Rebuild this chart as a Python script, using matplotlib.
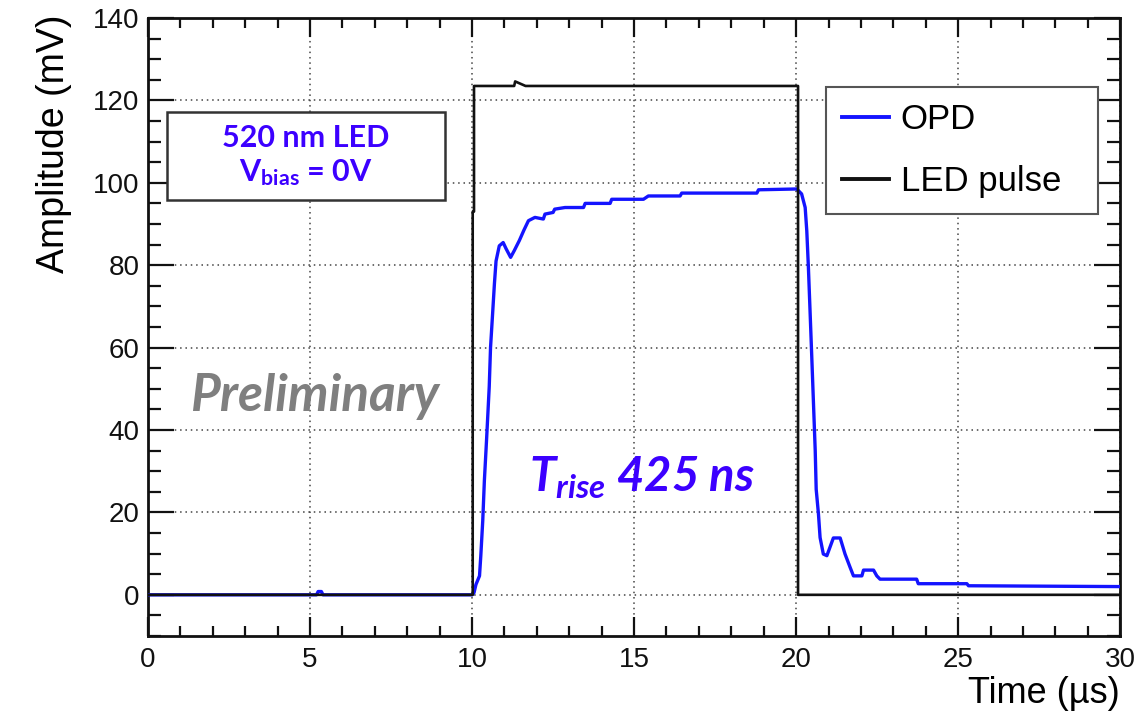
import matplotlib
matplotlib.use("Agg")
import matplotlib.pyplot as plt
from matplotlib.ticker import MultipleLocator
from matplotlib.patches import Rectangle

# ---------------- data ----------------
t_opd = [0.0, 5.2, 5.25, 5.35, 5.4, 10.0, 10.06, 10.12, 10.23, 10.27, 10.33, 10.38,
         10.45, 10.53, 10.57, 10.64, 10.69, 10.74, 10.84, 10.96, 11.05, 11.19, 11.3,
         11.46, 11.6, 11.74, 11.94, 12.2, 12.25, 12.5, 12.55, 12.87, 13.44, 13.49,
         14.26, 14.31, 15.29, 15.44, 16.42, 16.47, 18.79, 18.84, 20.02, 20.17, 20.28,
         20.33, 20.38, 20.43, 20.48, 20.59, 20.62, 20.69, 20.74, 20.84, 20.95, 21.15,
         21.36, 21.51, 21.67, 21.77, 22.03, 22.08, 22.39, 22.49, 22.59, 23.72, 23.77,
         25.27, 25.32, 30.0]
v_opd = [0.0, 0.0, 0.8, 0.8, 0.0, 0.0, 0.5, 2.5, 4.6, 9.5, 18.0, 27.7,
         38.0, 50.5, 60.0, 69.0, 75.5, 81.0, 84.7, 85.5, 84.0, 81.9, 83.5,
         86.0, 88.5, 90.8, 91.6, 91.2, 92.4, 92.8, 93.6, 94.0, 94.0, 95.0,
         95.0, 96.0, 96.0, 96.8, 96.8, 97.5, 97.5, 98.3, 98.5, 97.3, 94.0,
         88.3, 79.4, 69.0, 58.5, 35.0, 25.6, 19.6, 13.9, 9.9, 9.5, 13.8,
         13.8, 9.9, 6.6, 4.6, 4.6, 6.0, 6.0, 4.6, 3.8, 3.8, 2.7,
         2.7, 2.2, 2.0]

t_led = [0.0, 10.02, 10.02, 10.06, 10.06, 11.3, 11.33, 11.65, 20.06, 20.06, 30.0]
v_led = [0.0, 0.0, 93.0, 93.0, 123.5, 123.5, 124.6, 123.5, 123.5, 0.0, 0.0]

series_names = ["OPD", "LED pulse"]
x_ticks = [0, 5, 10, 15, 20, 25, 30]
y_ticks = [0, 20, 40, 60, 80, 100, 120, 140]

# ---------------- style ----------------
plt.rcParams['font.family'] = ['Liberation Sans', 'DejaVu Sans']
plt.rcParams['mathtext.fontset'] = 'custom'
plt.rcParams['mathtext.rm'] = 'Lato:bold'
plt.rcParams['mathtext.it'] = 'Lato:italic:bold'
plt.rcParams['mathtext.bf'] = 'Lato:bold'

txt_blue = '#3c00ff'

fig = plt.figure(figsize=(11.43, 7.19), dpi=100)
ax = fig.add_axes([0.1295, 0.1154, 0.8505, 0.8596])

ax.plot(t_opd, v_opd, color='#1414ff', lw=2.4, label=series_names[0], zorder=3)
ax.plot(t_led, v_led, color='#111111', lw=1.9, label=series_names[1], zorder=4)

ax.set_xlim(0, 30)
ax.set_ylim(-10, 140)
ax.set_xticks(x_ticks)
ax.set_yticks(y_ticks)
ax.xaxis.set_minor_locator(MultipleLocator(1))
ax.yaxis.set_minor_locator(MultipleLocator(5))
ax.tick_params(which='both', direction='in', top=True, right=True, width=1.6,
               labelsize=20, colors='#111111')
ax.tick_params(axis='x', which='major', length=13.5, pad=8)
ax.tick_params(axis='x', which='minor', length=7)
ax.tick_params(axis='y', which='major', length=19, pad=6)
ax.tick_params(axis='y', which='minor', length=9.5)
for s in ax.spines.values():
    s.set_linewidth(2.0)
    s.set_color('#111111')

ax.grid(True, which='major', color='#444444', linestyle=(0, (1, 2.5)), linewidth=1.1)
ax.set_axisbelow(True)

ax.set_ylabel('Amplitude (mV)', fontsize=27, loc='top')
ax.yaxis.set_label_coords(-0.078, 1.006)
ax.set_xlabel('Time (µs)', fontsize=26, loc='right')
ax.xaxis.set_label_coords(1.0, -0.064)

leg = ax.legend(loc='upper left', bbox_to_anchor=(0.6975, 0.686, 0.2795, 0.202),
                mode='expand', borderaxespad=0,
                fontsize=25, frameon=True, fancybox=False, edgecolor='#555555',
                handlelength=1.35, handletextpad=0.35, labelspacing=0.85,
                borderpad=0.45, framealpha=1)
leg.get_frame().set_linewidth(1.5)
for ln in leg.get_lines():
    ln.set_linewidth(2.8)

# annotation box
ax.add_patch(Rectangle((0.0195, 0.7055), 0.2861, 0.1425, transform=ax.transAxes,
                       facecolor='white', edgecolor='#333333', linewidth=1.8, zorder=5))
ax.text(0.1626, 0.777, '520 nm LED\nV$_{\\mathrm{bias}}$ = 0V', transform=ax.transAxes,
        ha='center', va='center', fontsize=22, color=txt_blue, family='Lato',
        fontweight='bold', linespacing=1.2, zorder=6)

ax.text(0.171, 0.388, 'Preliminary', transform=ax.transAxes, ha='center', va='center',
        fontsize=37, color='#7f7f7f', family='Lato', fontweight='bold', style='italic',
        zorder=6)

ax.text(0.392, 0.256, '$T_{rise}$ 425 ns', transform=ax.transAxes, ha='left',
        va='center', fontsize=34, color=txt_blue, family='Lato', fontweight='bold',
        style='italic', zorder=6)

fig.savefig('out.png', dpi=100)
